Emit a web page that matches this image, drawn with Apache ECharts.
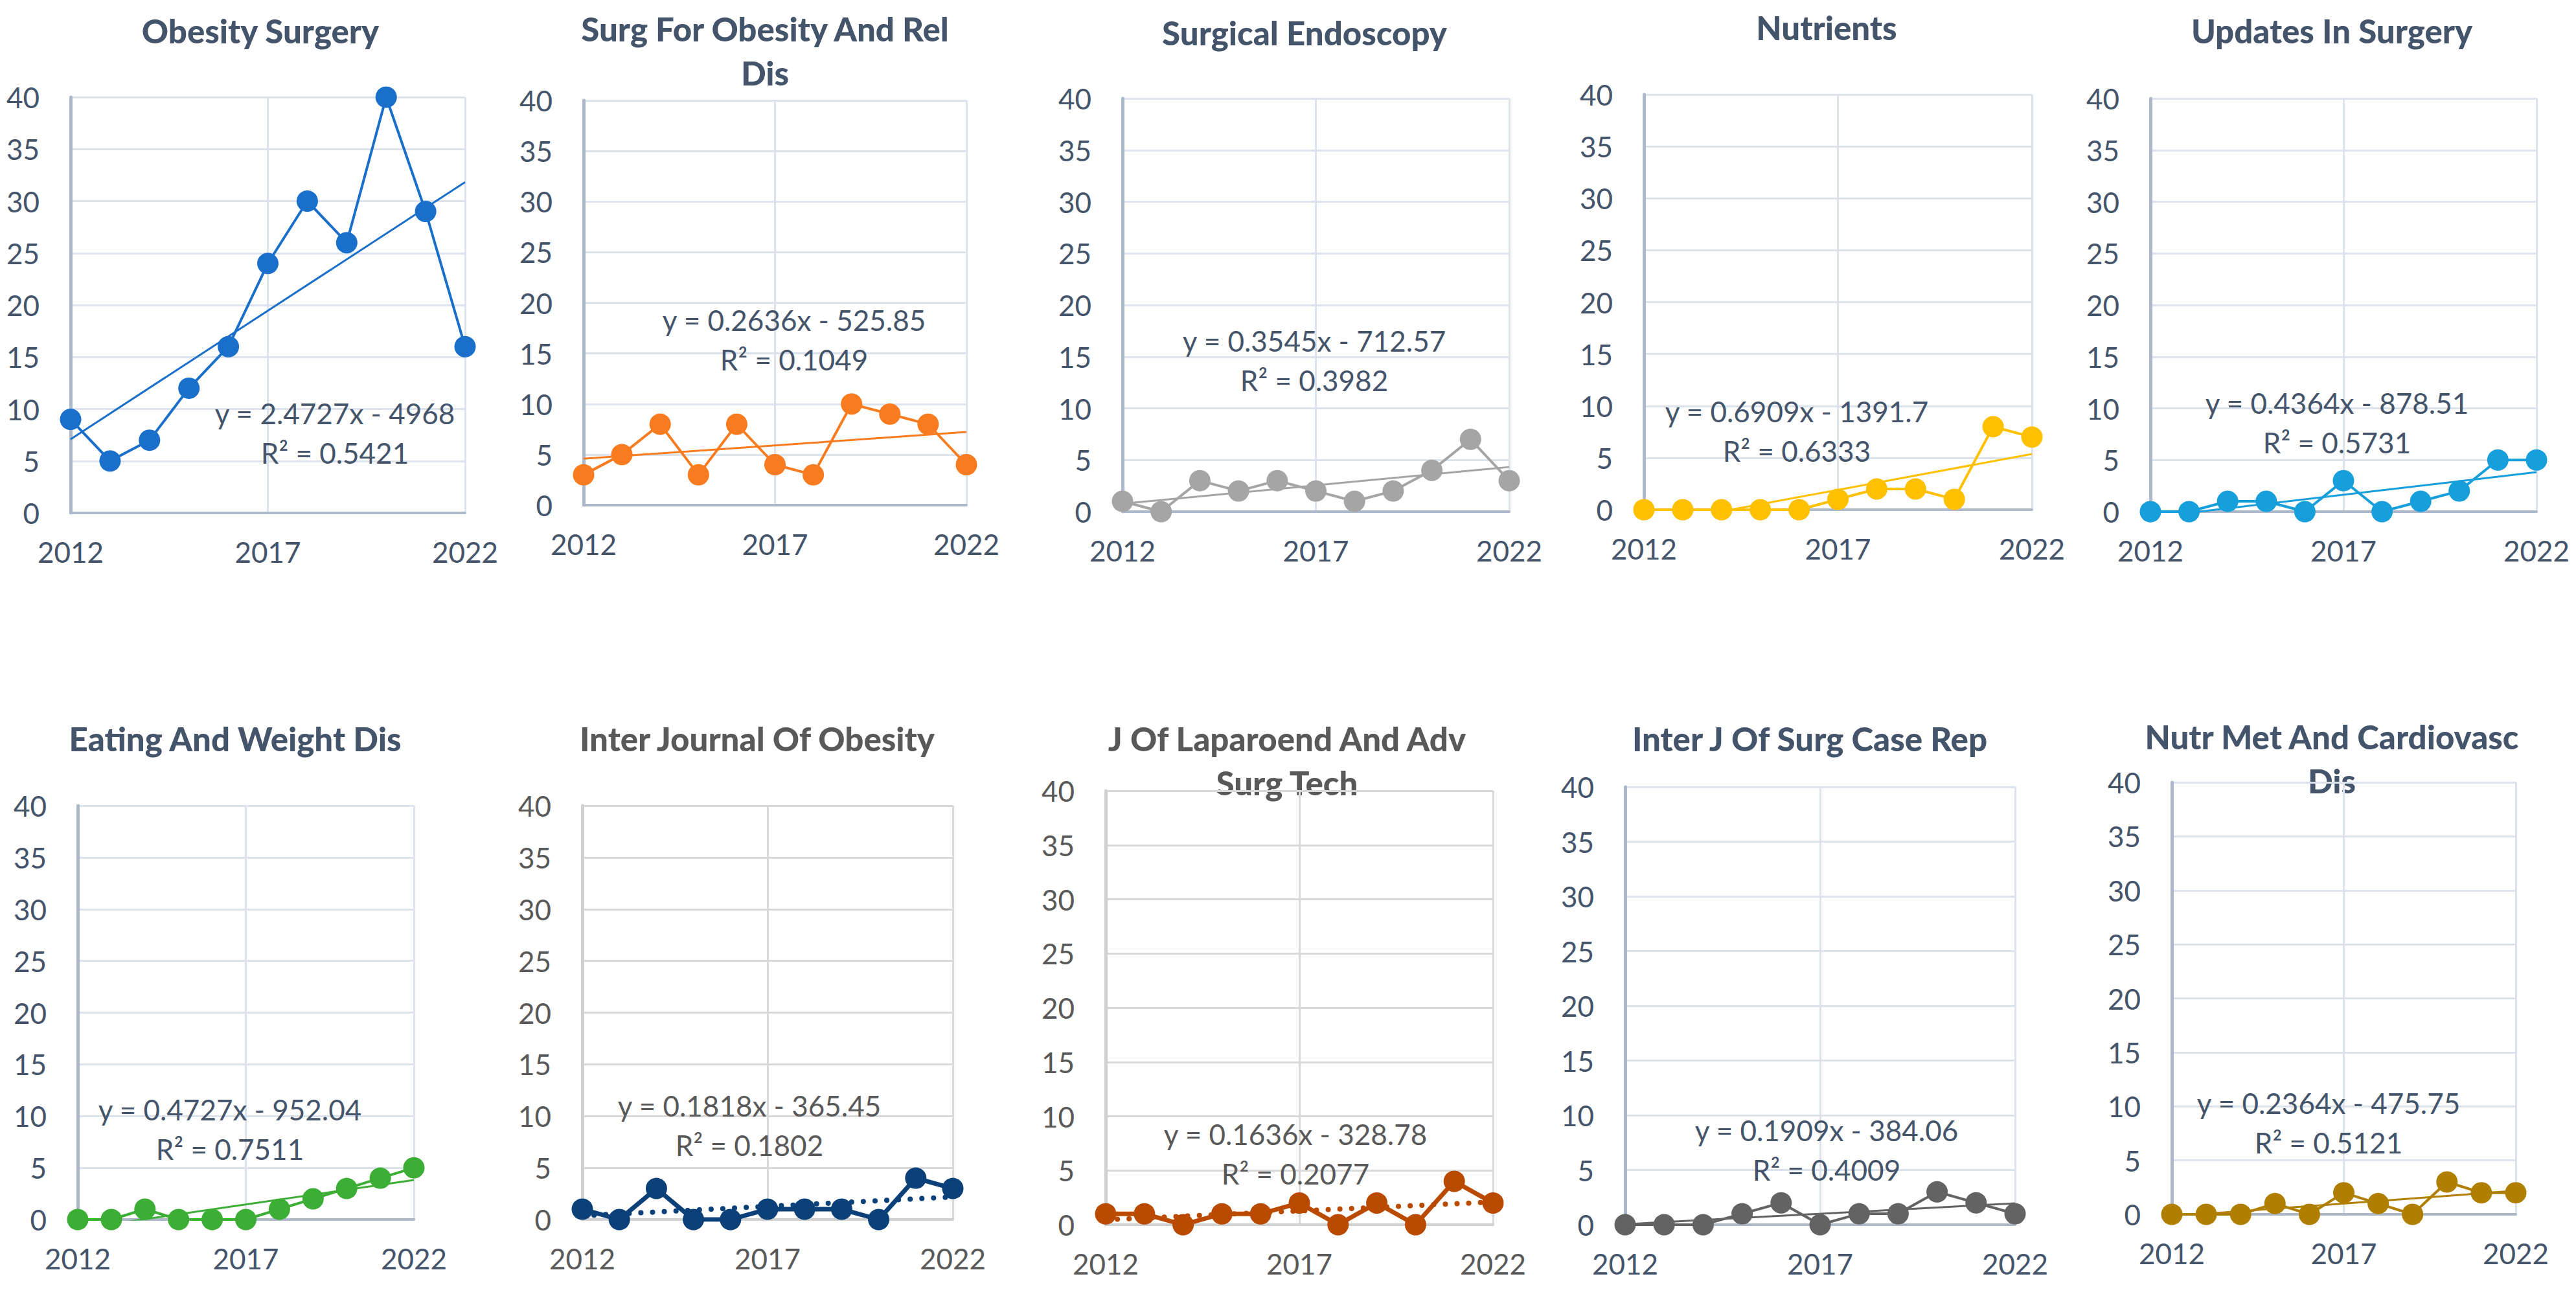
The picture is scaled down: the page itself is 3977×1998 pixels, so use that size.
<!DOCTYPE html>
<html><head><meta charset="utf-8">
<script src="https://cdn.jsdelivr.net/npm/echarts@6/dist/echarts.min.js"></script>
<style>html,body{margin:0;padding:0;background:#fff}#c{width:3977px;height:1998px}</style>
</head><body><div id="c"></div>
<script>
// ---------- DATA ----------
const years = [2012, 2013, 2014, 2015, 2016, 2017, 2018, 2019, 2020, 2021, 2022];
const xTicks = [2012, 2017, 2022];
const titles = [
  'Obesity Surgery', 'Surg For Obesity And Rel\nDis', 'Surgical Endoscopy', 'Nutrients', 'Updates In Surgery',
  'Eating And Weight Dis', 'Inter Journal Of Obesity', 'J Of Laparoend And Adv\nSurg Tech', 'Inter J Of Surg Case Rep', 'Nutr Met And Cardiovasc\nDis'
];
const obesitySurgery      = [9, 5, 7, 12, 16, 24, 30, 26, 40, 29, 16];
const surgObesityRelDis   = [3, 5, 8, 3, 8, 4, 3, 10, 9, 8, 4];
const surgicalEndoscopy   = [1, 0, 3, 2, 3, 2, 1, 2, 4, 7, 3];
const nutrients           = [0, 0, 0, 0, 0, 1, 2, 2, 1, 8, 7];
const updatesInSurgery    = [0, 0, 1, 1, 0, 3, 0, 1, 2, 5, 5];
const eatingWeightDis     = [0, 0, 1, 0, 0, 0, 1, 2, 3, 4, 5];
const interJObesity       = [1, 0, 3, 0, 0, 1, 1, 1, 0, 4, 3];
const jLaparoendAdvSurg   = [1, 1, 0, 1, 1, 2, 0, 2, 0, 4, 2];
const interJSurgCaseRep   = [0, 0, 0, 1, 2, 0, 1, 1, 3, 2, 1];
const nutrMetCardiovasc   = [0, 0, 0, 1, 0, 2, 1, 0, 3, 2, 2];
const equations = [
  'y = 2.4727x - 4968', 'y = 0.2636x - 525.85', 'y = 0.3545x - 712.57', 'y = 0.6909x - 1391.7', 'y = 0.4364x - 878.51',
  'y = 0.4727x - 952.04', 'y = 0.1818x - 365.45', 'y = 0.1636x - 328.78', 'y = 0.1909x - 384.06', 'y = 0.2364x - 475.75'
];
const rSquared = ['0.5421', '0.1049', '0.3982', '0.6333', '0.5731', '0.7511', '0.1802', '0.2077', '0.4009', '0.5121'];

// ---------- STYLE / LAYOUT ----------
const seriesList = [obesitySurgery, surgObesityRelDis, surgicalEndoscopy, nutrients, updatesInSurgery,
  eatingWeightDis, interJObesity, jLaparoendAdvSurg, interJSurgCaseRep, nutrMetCardiovasc];
const colors = ['#1A6FCB', '#F87C1F', '#A5A5A5', '#FFC000', '#169FDB', '#3DAE35', '#0C4078', '#BA4A00', '#636363', '#B07F00'];
const grayTheme = [false, false, false, false, false, false, true, true, false, false];
// [left, top, right, bottom]
const boxes = [
  [109, 150, 718, 792], [901, 155, 1492, 780], [1733, 152, 2330, 790], [2538, 146, 3137, 787], [3320, 152, 3916, 790],
  [120, 1244, 639, 1883], [899, 1244, 1471, 1883], [1707, 1221, 2305, 1891], [2509, 1215, 3111, 1891], [3353, 1208, 3884, 1875]
];
const titlePos = [[402, 47], [1181, 44], [2014, 50], [2820, 42], [3600, 47], [363, 1140], [1169, 1140], [1987, 1140], [2794, 1140], [3600, 1137]];
const eqPos = [[517, 638], [1226, 494], [2029, 526], [2774, 635], [3608, 622], [355, 1713], [1157, 1707], [2000, 1751], [2820, 1745], [3595, 1703]];

const FONT = 'Lato';
function fit(vals) {
  const n = vals.length;
  const mx = years.reduce((a, b) => a + b, 0) / n;
  const my = vals.reduce((a, b) => a + b, 0) / n;
  let sxy = 0, sxx = 0;
  for (let i = 0; i < n; i++) { sxy += (years[i] - mx) * (vals[i] - my); sxx += (years[i] - mx) ** 2; }
  const b = sxy / sxx, a = my - b * mx;
  return x => a + b * x;
}

const grid = [], xAxis = [], yAxis = [], series = [], graphic = [];
seriesList.forEach((vals, i) => {
  const [l, t, r, btm] = boxes[i];
  const txt = grayTheme[i] ? '#595959' : '#44546A';
  const gridCol = grayTheme[i] ? '#D9D9D9' : '#DCE3EC';
  const axisCol = grayTheme[i] ? '#D0D0D0' : '#ADB9CA';
  grid.push({ left: l, top: t, width: r - l, height: btm - t, containLabel: false });
  xAxis.push({
    type: 'value', gridIndex: i, min: xTicks[0], max: xTicks[xTicks.length - 1], interval: xTicks[1] - xTicks[0],
    axisLine: { show: true, lineStyle: { color: axisCol, width: 4 } }, axisTick: { show: false },
    splitLine: { show: true, lineStyle: { color: gridCol, width: 3 } },
    axisLabel: { color: txt, fontSize: 44, fontFamily: FONT, margin: 38, formatter: v => String(v) }
  });
  yAxis.push({
    type: 'value', gridIndex: i, min: 0, max: 40, interval: 5,
    axisLine: { show: true, lineStyle: { color: axisCol, width: 5 } }, axisTick: { show: false },
    splitLine: { show: true, lineStyle: { color: gridCol, width: 3 } },
    axisLabel: { color: txt, fontSize: 44, fontFamily: FONT, margin: 48 }
  });
  const thick = grayTheme[i];
  series.push({
    type: 'line', xAxisIndex: i, yAxisIndex: i, data: years.map((y, j) => [y, vals[j]]),
    symbol: 'circle', symbolSize: 33, itemStyle: { color: colors[i] },
    lineStyle: { color: colors[i], width: thick ? 7 : 4 }, silent: true, animation: false, z: 3
  });
  const f = fit(vals);
  series.push({
    type: 'line', xAxisIndex: i, yAxisIndex: i,
    data: [[years[0], f(years[0])], [years[years.length - 1], f(years[years.length - 1])]],
    symbol: 'none', silent: true, animation: false, z: 4,
    lineStyle: thick ? { color: colors[i], width: 8, type: [0.1, 18], cap: 'round' } : { color: colors[i], width: 3 }
  });
  graphic.push({
    type: 'text', x: titlePos[i][0], y: titlePos[i][1],
    style: { text: titles[i], align: 'center', verticalAlign: 'middle', fontSize: 51, fontWeight: 900, fontFamily: FONT, fill: txt, lineHeight: 68 }
  });
  graphic.push({
    type: 'text', x: eqPos[i][0], y: eqPos[i][1],
    style: { text: equations[i] + '\nR\u00B2 = ' + rSquared[i], align: 'center', verticalAlign: 'middle', fontSize: 44, fontFamily: FONT, fill: txt, lineHeight: 61 },
    z: 10
  });
});
// shift graphic text so first line center is at position
graphic.forEach(g => {
  const lines = g.style.text.split('\n').length;
  g.y += (lines - 1) * g.style.lineHeight / 2;
});

const chart = echarts.init(document.getElementById('c'), null, { renderer: 'svg' });
chart.setOption({ backgroundColor: '#fff', animation: false, grid, xAxis, yAxis, series, graphic });
</script></body></html>
